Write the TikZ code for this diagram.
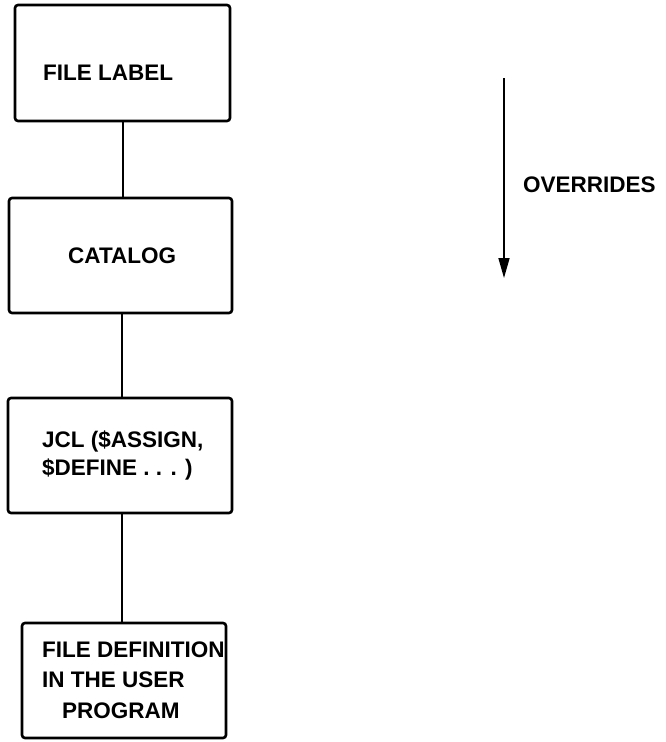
\documentclass[tikz,border=0pt]{standalone}
\usepackage{fontspec}
\setmainfont{Liberation Sans}
\usetikzlibrary{arrows.meta}
\begin{document}
\begin{tikzpicture}[x=1pt,y=-1pt,
  boxstyle/.style={draw, line width=2.6pt, rounded corners=3pt, inner sep=0pt},
  linkstyle/.style={line width=1.4pt},
  labelstyle/.style={inner sep=0pt, anchor=base west, font=\fontsize{22.5}{29}\selectfont\bfseries},
  arrowstyle/.style={line width=1.6pt, -{Triangle[length=20pt,width=11pt]}}]
  \useasboundingbox (0,0) rectangle (665,742);
  % boxes
  \node[boxstyle, minimum width=215pt, minimum height=116pt] (b1) at (122.5,63) {};
  \node[boxstyle, minimum width=223pt, minimum height=115pt] (b2) at (120.5,255.5) {};
  \node[boxstyle, minimum width=224pt, minimum height=115pt] (b3) at (120,455.5) {};
  \node[boxstyle, minimum width=204pt, minimum height=115pt] (b4) at (124,680.5) {};
  % box texts
  \node[labelstyle] (t1) at (43,80) {FILE LABEL};
  \node[labelstyle] (t2) at (68,263) {CATALOG};
  \node[labelstyle] (t3a) at (42,447) {JCL (\$ASSIGN,};
  \node[labelstyle] (t3b) at (42,475) {\$DEFINE . . . )};
  \node[labelstyle] (t4a) at (42,657) {FILE DEFINITION};
  \node[labelstyle] (t4b) at (42,687) {IN THE USER};
  \node[labelstyle] (t4c) at (62,718) {PROGRAM};
  % connectors
  \draw[linkstyle] (123,0 |- b1.south) -- (123,0 |- b2.north);
  \draw[linkstyle] (122,0 |- b2.south) -- (122,0 |- b3.north);
  \draw[linkstyle] (122,0 |- b3.south) -- (122,0 |- b4.north);
  % precedence arrow
  \coordinate (atop) at (504,78);
  \coordinate (abot) at (504,278);
  \draw[arrowstyle] (atop) -- (abot);
  \node[labelstyle] (ov) at (523,192) {OVERRIDES};
\end{tikzpicture}
\end{document}
